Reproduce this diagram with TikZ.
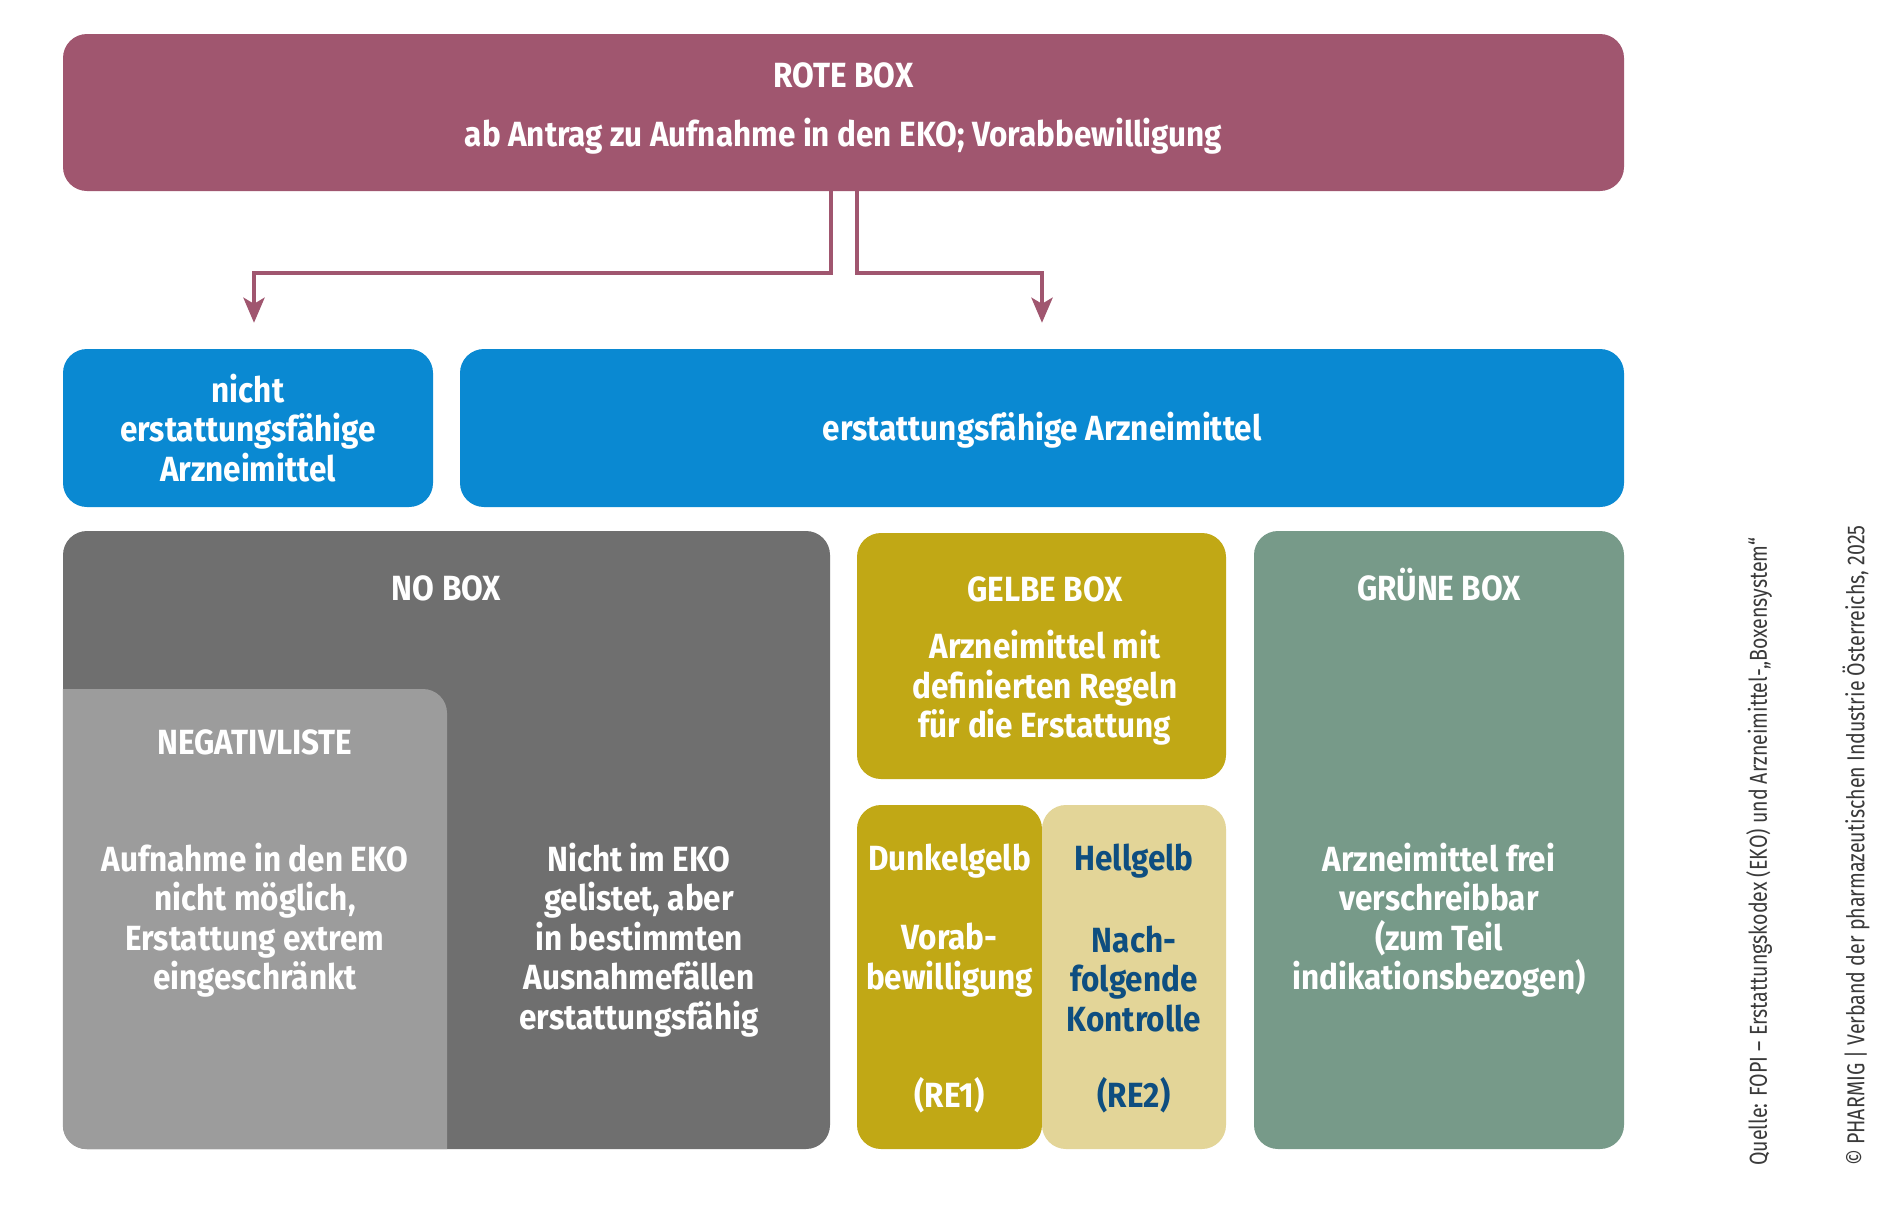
\documentclass[tikz,border=0pt]{standalone}
\usepackage{fontspec}
\setmainfont{Fira Sans}[FakeStretch=0.9]
\newfontfamily\creditfont{Fira Sans}[FakeStretch=0.8]
\usetikzlibrary{arrows.meta}
\definecolor{rote}{HTML}{A0566F}
\definecolor{blau}{HTML}{0A89D2}
\definecolor{nobox}{HTML}{6F6F6F}
\definecolor{negl}{HTML}{9C9C9C}
\definecolor{gelb}{HTML}{C1A815}
\definecolor{hell}{HTML}{E3D598}
\definecolor{helltext}{HTML}{0E4E80}
\definecolor{gruen}{HTML}{779A89}
\definecolor{credit}{HTML}{3A3A3A}
\begin{document}
\begin{tikzpicture}[x=1pt,y=-1pt,
  boxx/.style={rounded corners=24pt, inner sep=0pt, draw=none},
  txt/.style={text=white, align=center, inner sep=0pt, font=\bfseries\fontsize{35}{39.5}\selectfont},
  htxt/.style={txt, text=helltext},
  arr/.style={draw=rote, line width=4.5pt, -{Stealth[width=21pt,length=25pt,inset=6pt]}},
  cred/.style={text=credit, rotate=90, anchor=west, inner sep=0pt, font=\creditfont\fontsize{24.5}{24.5}\selectfont}]
\useasboundingbox (0,0) rectangle (1900,1205);
\fill[white] (0,0) rectangle (1900,1205);

% top box
\node[boxx, fill=rote, minimum width=1561pt, minimum height=157pt] (rote) at (843.5,112.5) {};
\node[txt] (rotet) at (843.5,75) {ROTE BOX};
\node[txt] (rotes) at (843.5,136) {ab Antrag zu Aufnahme in den EKO; Vorabbewilligung};

% blue boxes
\node[boxx, fill=blau, minimum width=370pt, minimum height=158pt] (nicht) at (248,428) {};
\node[txt] (nichtt) at (248,428) {nicht\\erstattungsfähige\\Arzneimittel};
\node[boxx, fill=blau, minimum width=1164pt, minimum height=158pt] (erst) at (1042,428) {};
\node[txt] (erstt) at (1042,430) {erstattungsfähige Arzneimittel};

% arrows
\draw[arr] ([xshift=-12.5pt]rote.south) -- ++(0,82) -| ([xshift=6pt,yshift=26pt]nicht.north);
\draw[arr] ([xshift=13.5pt]rote.south) -- ++(0,82) -| ([yshift=26pt]erst.north);

% NO BOX
\node[boxx, fill=nobox, minimum width=767pt, minimum height=618pt] (nob) at (446.5,840) {};
\begin{scope}
  \clip[rounded corners=24pt] (nob.south west) rectangle (nob.north east);
  \fill[negl, rounded corners=24pt] (20,689) rectangle (447,1300);
\end{scope}
\coordinate (neg) at (255,919);
\node[txt] (nobt) at (446.5,588) {NO BOX};
\node[txt] (negt) at (255,742) {NEGATIVLISTE};
\node[txt] (negb) at (255,920) {Aufnahme in den EKO\\nicht möglich,\\Erstattung extrem\\eingeschränkt};
\node[txt] (nobb) at (639,940) {Nicht im EKO\\gelistet, aber\\in bestimmten\\Ausnahmefällen\\erstattungsfähig};

% GELBE BOX
\node[boxx, fill=gelb, minimum width=369pt, minimum height=246pt] (gelb) at (1041.5,656) {};
\node[txt] (gelbt) at (1045,589) {GELBE BOX};
\node[txt] (gelbb) at (1045,688) {Arzneimittel mit\\definierten Regeln\\für die Erstattung};

\node[boxx, fill=gelb, minimum width=185pt, minimum height=344pt] (dunkel) at (949.5,977) {};
\node[boxx, fill=hell, minimum width=184pt, minimum height=344pt] (hellb) at (1134,977) {};
\node[txt] (dt1) at (949.5,861) {Dunkelgelb};
\node[txt] (dt2) at (949.5,960) {Vorab-\\bewilligung};
\node[txt] (dt3) at (949.5,1095) {(RE1)};
\node[htxt] (ht1) at (1134,861) {Hellgelb};
\node[htxt] (ht2) at (1134,979) {Nach-\\folgende\\Kontrolle};
\node[htxt] (ht3) at (1134,1095) {(RE2)};

% GRUENE BOX
\node[boxx, fill=gruen, minimum width=370pt, minimum height=618pt] (gruen) at (1439,840) {};
\node[txt] (gruent) at (1439,585) {GRÜNE BOX};
\node[txt] (gruenb) at (1439,920) {Arzneimittel frei\\verschreibbar\\(zum Teil\\indikationsbezogen)};

% credits
\node[cred] (quelle) at (1759,1166) {Quelle: FOPI – Erstattungskodex (EKO) und Arzneimittel-„Boxensystem“};
\node[cred] (copy) at (1856,1166) {© PHARMIG | Verband der pharmazeutischen Industrie Österreichs, 2025};
\end{tikzpicture}
\end{document}
